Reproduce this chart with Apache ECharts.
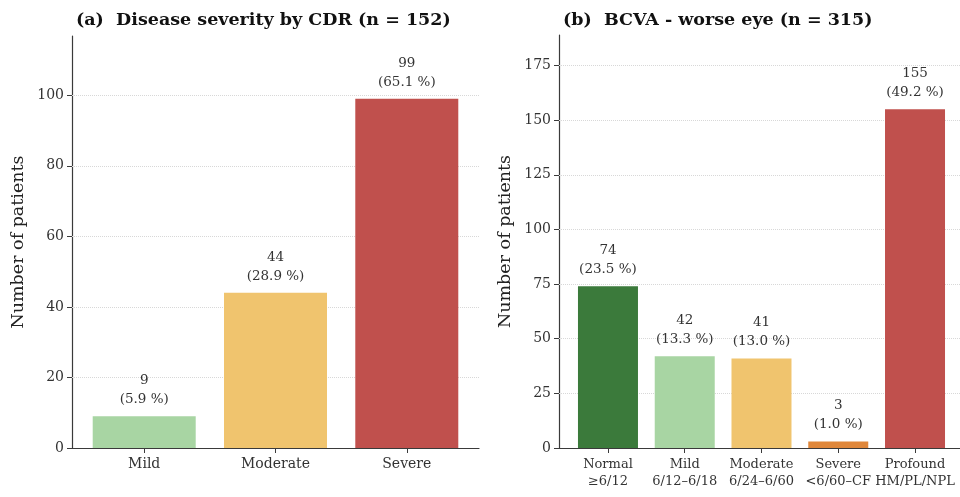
<!DOCTYPE html>
<html>
<head>
<meta charset="utf-8">
<script src="https://cdn.jsdelivr.net/npm/echarts@6/dist/echarts.min.js"></script>
<style>
  html, body { margin: 0; padding: 0; background: #fff; }
  #chart { width: 960px; height: 497px; }
</style>
</head>
<body>
<div id="chart"></div>
<script>
// (a) disease severity by CDR
var cdrCategories = ['Mild', 'Moderate', 'Severe'];
var cdrCounts = [9, 44, 99];
var cdrPercents = ['5.9', '28.9', '65.1'];
var cdrColors = ['#a8d5a3', '#f0c46e', '#c0504d'];
var cdrTicks = [0, 20, 40, 60, 80, 100];

// (b) BCVA worse eye
var bcvaCategories = ['Normal\n≥6/12', 'Mild\n6/12–6/18', 'Moderate\n6/24–6/60', 'Severe\n<6/60–CF', 'Profound\nHM/PL/NPL'];
var bcvaCounts = [74, 42, 41, 3, 155];
var bcvaPercents = ['23.5', '13.3', '13.0', '1.0', '49.2'];
var bcvaColors = ['#3b7a3b', '#a8d5a3', '#f0c46e', '#e0873a', '#c0504d'];
var bcvaTicks = [0, 25, 50, 75, 100, 125, 150, 175];

var FONT = '"DejaVu Serif", "Liberation Serif", serif';
var AXIS_COLOR = '#3a3a3a';

var chart = echarts.init(document.getElementById('chart'));

// 把计数和颜色转成 [x, y] 数据
var toData = function(counts, colors) {
  return counts.map(function(v, i) {
    return { value: [i, v], itemStyle: { color: colors[i] } };
  });
};

var idx = function(n) {
  var out = [];
  for (var i = 0; i < n; i++) out.push(i);
  return out;
};

var xAxisOf = function(gridIndex, cats, min, max, fontSize) {
  return {
    type: 'value', gridIndex: gridIndex, min: min, max: max,
    axisLine: { show: true, onZero: false, lineStyle: { color: AXIS_COLOR, width: 1.2 } },
    axisTick: { show: true, customValues: idx(cats.length), length: 5, lineStyle: { color: AXIS_COLOR } },
    axisLabel: {
      customValues: idx(cats.length), hideOverlap: false,
      showMinLabel: true, showMaxLabel: true,
      formatter: function(v) { return cats[Math.round(v)]; },
      fontFamily: FONT, fontSize: fontSize, color: '#333', lineHeight: 17, margin: 8
    },
    splitLine: { show: false }
  };
};

var yAxisOf = function(gridIndex, ticks, max) {
  return {
    type: 'value', gridIndex: gridIndex, min: 0, max: max,
    name: 'Number of patients', nameLocation: 'middle', nameGap: 45,
    nameTextStyle: { fontFamily: FONT, fontSize: 17.5, color: '#222' },
    axisLine: { show: true, onZero: false, lineStyle: { color: AXIS_COLOR, width: 1.2 } },
    axisTick: { show: true, customValues: ticks, length: 5, lineStyle: { color: AXIS_COLOR } },
    axisLabel: { customValues: ticks, fontFamily: FONT, fontSize: 14, color: '#333', margin: 8 },
    splitLine: { show: false }
  };
};

var barSeries = function(axisIndex, counts, percents, colors, ticks, width) {
  return {
    type: 'bar', xAxisIndex: axisIndex, yAxisIndex: axisIndex,
    barWidth: width,
    data: toData(counts, colors),
    label: {
      show: true, position: 'top', distance: 7,
      fontFamily: FONT, fontSize: 13.5, color: '#333', lineHeight: 19,
      formatter: function(p) {
        return p.value[1] + '\n(' + percents[p.dataIndex] + ' %)';
      }
    },
    // 网格线(虚线)画在柱子下面
    markLine: {
      silent: true, symbol: 'none', z: 1,
      label: { show: false },
      lineStyle: { color: '#d8d8d8', type: 'dotted', width: 1 },
      data: ticks.slice(1).map(function(t) { return { yAxis: t }; })
    }
  };
};

var option = {
  animation: false,
  title: [
    { text: '(a)  Disease severity by CDR (n = 152)', left: 71, top: 6,
      textStyle: { fontFamily: FONT, fontSize: 17.5, fontWeight: 'bold', color: '#111' } },
    { text: '(b)  BCVA - worse eye (n = 315)', left: 558, top: 6,
      textStyle: { fontFamily: FONT, fontSize: 17.5, fontWeight: 'bold', color: '#111' } }
  ],
  grid: [
    { left: 72, right: 481, top: 36, bottom: 49 },
    { left: 559, right: 0, top: 35, bottom: 49 }
  ],
  xAxis: [
    xAxisOf(0, cdrCategories, -0.55, 2.55, 14),
    xAxisOf(1, bcvaCategories, -0.638, 4.586, 13)
  ],
  yAxis: [
    yAxisOf(0, cdrTicks, 116.8),
    yAxisOf(1, bcvaTicks, 189)
  ],
  series: [
    barSeries(0, cdrCounts, cdrPercents, cdrColors, cdrTicks, 103),
    barSeries(1, bcvaCounts, bcvaPercents, bcvaColors, bcvaTicks, 60)
  ]
};

chart.setOption(option);
</script>
</body>
</html>
